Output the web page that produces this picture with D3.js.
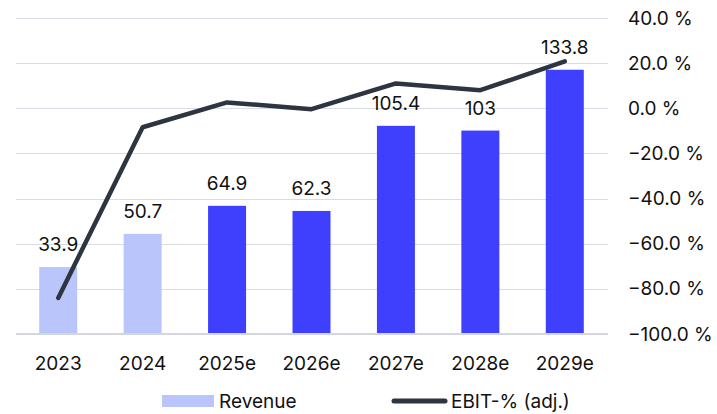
<!DOCTYPE html>
<html>
<head>
<meta charset="utf-8">
<script src="https://cdn.jsdelivr.net/npm/d3@7"></script>
<style>
  body { margin: 0; background: #fff; }
  svg text { font-family: Inter, "Noto Sans", sans-serif; fill: #111; }
</style>
</head>
<body>
<div id="chart"></div>
<script>
  var years = ["2023", "2024", "2025e", "2026e", "2027e", "2028e", "2029e"];
  var revenue = [33.9, 50.7, 64.9, 62.3, 105.4, 103, 133.8];
  var ebitPct = [-84, -8.4, 2.6, -0.4, 11, 8, 20.8];
  var estimate = [false, false, true, true, true, true, true];
  var pctTicks = [40, 20, 0, -20, -40, -60, -80, -100];

  var width = 717, height = 414;
  var plotLeft = 16, plotRight = 607, plotTop = 18, plotBottom = 334;
  var fontSize = 19;

  var lightBar = "#bac6fb";
  var darkBar = "#3f3ffe";
  var lineColor = "#2d3541";

  var svg = d3.select("#chart").append("svg")
      .attr("width", width)
      .attr("height", height);

  var x = d3.scaleBand().domain(years).range([plotLeft, plotRight]).paddingInner(0.55).paddingOuter(0.275);
  var yRev = d3.scaleLinear().domain([0, 160]).range([plotBottom, plotTop]);
  var yPct = d3.scaleLinear().domain([-100, 40]).range([plotBottom, plotTop]);

  // gridlines
  svg.append("g").selectAll("line")
    .data(pctTicks.slice(0, -1))
    .enter().append("line")
      .attr("x1", plotLeft).attr("x2", plotRight + 1)
      .attr("y1", function(d){ return Math.round(yPct(d)) + 0.5; })
      .attr("y2", function(d){ return Math.round(yPct(d)) + 0.5; })
      .attr("stroke", "#d8dce4")
      .attr("stroke-width", 1);

  // bars
  svg.append("g").selectAll("rect")
    .data(revenue)
    .enter().append("rect")
      .attr("x", function(d, i){ return x(years[i]); })
      .attr("width", x.bandwidth())
      .attr("y", function(d){ return yRev(d); })
      .attr("height", function(d){ return plotBottom - yRev(d); })
      .attr("fill", function(d, i){ return estimate[i] ? darkBar : lightBar; });

  // baseline
  svg.append("line")
    .attr("x1", plotLeft).attr("x2", plotRight + 1)
    .attr("y1", plotBottom).attr("y2", plotBottom)
    .attr("stroke", "#d3d6dc")
    .attr("stroke-width", 2);

  // bar value labels
  svg.append("g").selectAll("text")
    .data(revenue)
    .enter().append("text")
      .attr("x", function(d, i){ return x(years[i]) + x.bandwidth() / 2; })
      .attr("y", function(d){ return yRev(d) - 16; })
      .attr("text-anchor", "middle")
      .attr("font-size", fontSize)
      .text(function(d){ return d; });

  // EBIT line
  var line = d3.line()
    .x(function(d, i){ return x(years[i]) + x.bandwidth() / 2; })
    .y(function(d){ return yPct(d); });

  svg.append("path")
    .datum(ebitPct)
    .attr("d", line)
    .attr("fill", "none")
    .attr("stroke", lineColor)
    .attr("stroke-width", 4.5)
    .attr("stroke-linecap", "round")
    .attr("stroke-linejoin", "round");

  // right axis
  var yAxis = d3.axisRight(yPct)
    .tickValues(pctTicks)
    .tickSize(0)
    .tickPadding(0)
    .tickFormat(function(d){ return d3.format(".1f")(d) + " %"; });

  svg.append("g")
    .attr("transform", "translate(628,0)")
    .call(yAxis)
    .call(function(g){ g.select(".domain").remove(); })
    .selectAll("text")
      .attr("font-size", fontSize)
      .attr("font-family", "Inter, 'Noto Sans', sans-serif")
      .attr("fill", "#111");

  // x axis
  var xAxis = d3.axisBottom(x).tickSize(0).tickPadding(0);
  svg.append("g")
    .attr("transform", "translate(0," + (plotBottom + 22) + ")")
    .call(xAxis)
    .call(function(g){ g.select(".domain").remove(); })
    .selectAll("text")
      .attr("font-size", fontSize)
      .attr("font-family", "Inter, 'Noto Sans', sans-serif")
      .attr("fill", "#111");

  // legend
  var legend = svg.append("g");
  legend.append("rect")
    .attr("x", 162).attr("y", 395)
    .attr("width", 52).attr("height", 12)
    .attr("fill", lightBar);
  legend.append("text")
    .attr("x", 219).attr("y", 408)
    .attr("font-size", fontSize)
    .text("Revenue");
  legend.append("line")
    .attr("x1", 394).attr("x2", 445)
    .attr("y1", 401).attr("y2", 401)
    .attr("stroke", lineColor)
    .attr("stroke-width", 5)
    .attr("stroke-linecap", "round");
  legend.append("text")
    .attr("x", 451).attr("y", 408)
    .attr("font-size", fontSize)
    .text("EBIT-% (adj.)");
</script>
</body>
</html>
